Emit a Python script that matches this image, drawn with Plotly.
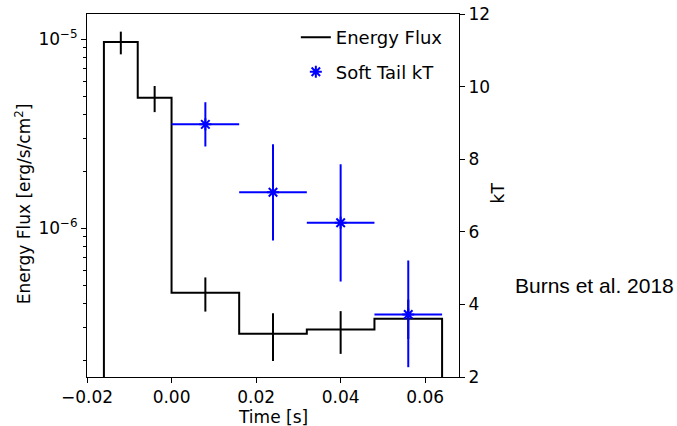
import plotly.graph_objects as go

# Energy flux step histogram
bin_edges = [-0.016, -0.008, 0.0, 0.016, 0.032, 0.048, 0.064]
flux = [9.64e-6, 4.9e-6, 4.57e-7, 2.77e-7, 2.92e-7, 3.33e-7]
flux_centers = [-0.012, -0.004, 0.008, 0.024, 0.040, 0.056]
flux_err_hi = [1.094e-5, 5.65e-6, 5.5e-7, 3.56e-7, 3.65e-7, 4.2e-7]
flux_err_lo = [8.3e-6, 4.11e-6, 3.63e-7, 1.99e-7, 2.17e-7, 2.6e-7]
flux_floor = 1e-8

# Soft tail kT
kt_t = [0.008, 0.024, 0.040, 0.056]
kt_halfwidth = [0.008, 0.008, 0.008, 0.008]
kt = [8.96, 7.09, 6.25, 3.72]
kt_hi = [9.57, 8.41, 7.86, 5.21]
kt_lo = [8.35, 5.76, 4.63, 2.27]

x_ticks = [-0.02, 0.0, 0.02, 0.04, 0.06]
x_ticktext = ["\u22120.02", "0.00", "0.02", "0.04", "0.06"]
y_ticks = [1e-6, 1e-5]
y_ticktext = ["10<sup>\u22126</sup>", "10<sup>\u22125</sup>"]
y_minor = [m * 10 ** e for e in (-7, -6) for m in range(2, 10)]
kt_ticks = [2, 4, 6, 8, 10, 12]

FONT = "DejaVu Sans"
fs = 17

step_x = [bin_edges[0]] + bin_edges + [bin_edges[-1]]
step_y = [flux_floor] + flux + [flux[-1], flux_floor]

fig = go.Figure()
fig.add_trace(go.Scatter(
    x=step_x, y=step_y, mode="lines", line=dict(shape="hv", color="black", width=2),
    name="Energy Flux", yaxis="y", legendgroup="a"))
fig.add_trace(go.Scatter(
    x=flux_centers, y=flux, mode="markers", marker=dict(size=0.1, color="black", opacity=0),
    error_y=dict(type="data", symmetric=False,
                 array=[h - v for h, v in zip(flux_err_hi, flux)],
                 arrayminus=[v - l for v, l in zip(flux, flux_err_lo)],
                 color="black", thickness=2, width=0),
    showlegend=False, yaxis="y", legendgroup="a"))
fig.add_trace(go.Scatter(
    x=kt_t, y=kt, mode="markers",
    marker=dict(symbol="asterisk-open", size=10, color="#0000ff", line=dict(color="#0000ff", width=2)),
    error_y=dict(type="data", symmetric=False,
                 array=[h - v for h, v in zip(kt_hi, kt)],
                 arrayminus=[v - l for v, l in zip(kt, kt_lo)],
                 color="#0000ff", thickness=2, width=0),
    error_x=dict(type="data", array=kt_halfwidth, color="#0000ff", thickness=2, width=0),
    name="Soft Tail kT", yaxis="y2", legendgroup="b"))

axis_common = dict(showline=True, linecolor="black", linewidth=1, ticks="outside",
                   ticklen=5, tickwidth=1, tickcolor="black", showgrid=False, zeroline=False,
                   automargin=False,
                   tickfont=dict(family=FONT, size=fs, color="black"))

fig.update_layout(
    width=677, height=426,
    margin=dict(l=87, r=218, t=14, b=49),
    paper_bgcolor="white", plot_bgcolor="white",
    font=dict(family=FONT, size=fs, color="black"),
    xaxis=dict(range=[-0.02, 0.068], tickvals=x_ticks, ticktext=x_ticktext, mirror=True,
               **axis_common),
    yaxis=dict(type="log", range=[-6.7857, -4.8677], tickvals=y_ticks, ticktext=y_ticktext,
               minor=dict(tickvals=y_minor, ticks="outside", ticklen=3, tickcolor="black", tickwidth=1),
               **axis_common),
    yaxis2=dict(overlaying="y", side="right", range=[2, 12], tickvals=kt_ticks, **axis_common),
    legend=dict(x=0.97, y=0.986, xanchor="right", yanchor="top", bgcolor="rgba(0,0,0,0)",
                font=dict(family=FONT, size=18), traceorder="grouped", tracegroupgap=8),
    showlegend=True,
)
title_font = dict(family=FONT, size=fs, color="black")
fig.add_annotation(text="Time [s]", xref="paper", yref="paper", x=0.5, y=-0.110,
                   xanchor="center", yanchor="middle", showarrow=False, font=title_font)
fig.add_annotation(text="Energy Flux [erg/s/cm<sup>2</sup>]", xref="paper", yref="paper",
                   x=-0.172, y=0.476, textangle=-90,
                   xanchor="center", yanchor="middle", showarrow=False, font=title_font)
fig.add_annotation(text="kT", xref="paper", yref="paper", x=1.106, y=0.507, textangle=-90,
                   xanchor="center", yanchor="middle", showarrow=False, font=title_font)
fig.add_annotation(text="Burns et al. 2018", xref="paper", yref="paper",
                   x=1.0, xanchor="left", xshift=54, y=0.253, yanchor="middle",
                   showarrow=False, font=dict(family="Liberation Sans", size=21, color="black"))

fig.write_html("out.html")
